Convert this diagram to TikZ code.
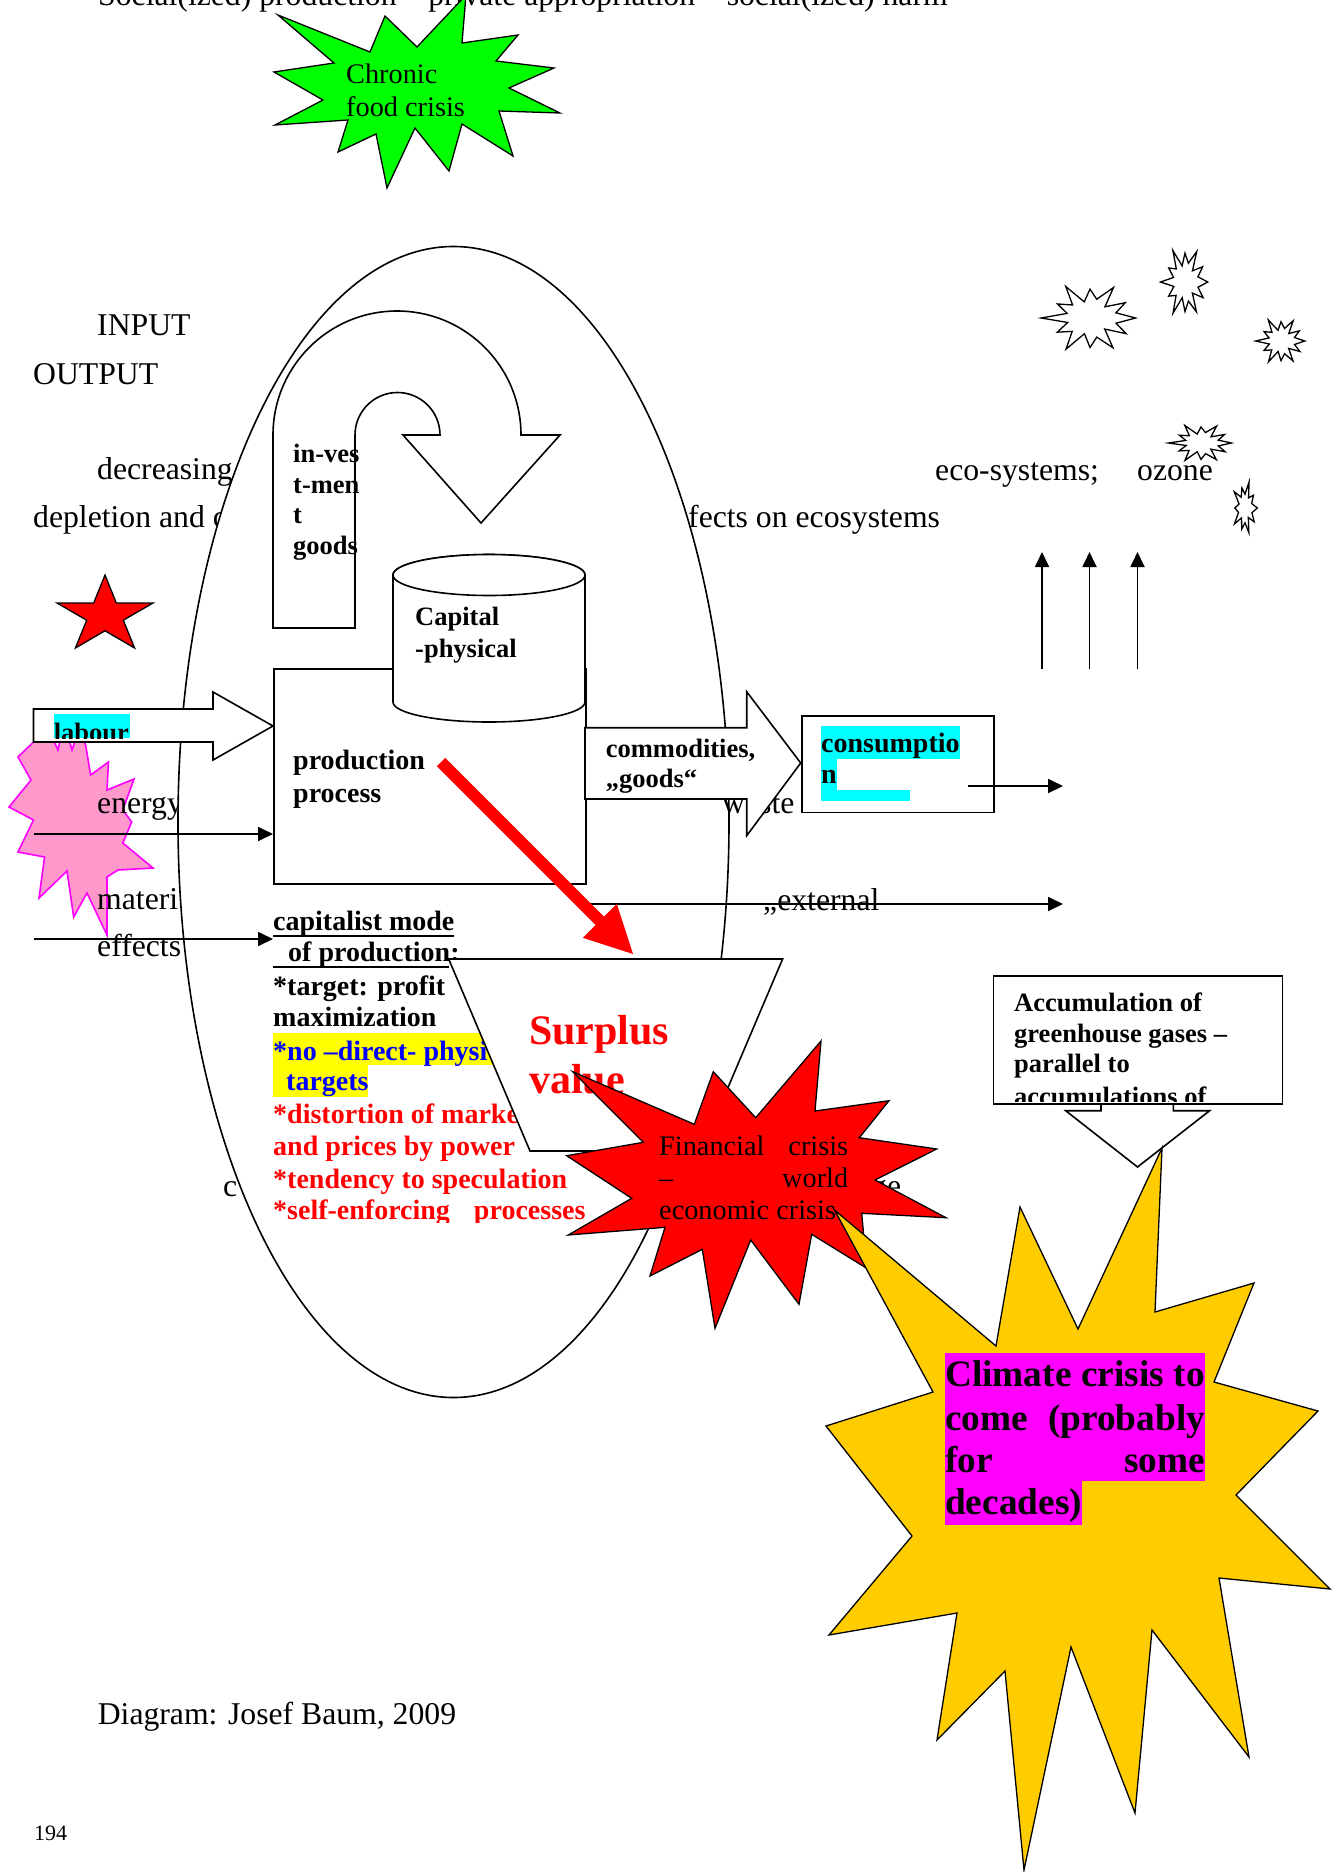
\documentclass[tikz,border=0pt]{standalone}
\usepackage{fontspec}
\setmainfont{Liberation Serif}
\usetikzlibrary{arrows.meta}
\definecolor{greenf}{HTML}{00FF00}
\definecolor{pinkf}{HTML}{FF99CC}
\definecolor{magf}{HTML}{FF00FF}
\definecolor{cyanf}{HTML}{00FFFF}
\definecolor{yellowf}{HTML}{FFFF00}
\definecolor{goldf}{HTML}{FFCC00}
\definecolor{redf}{HTML}{FF0000}
\definecolor{bluef}{HTML}{0000FF}
\newcommand{\rgfont}{\fontsize{31.7}{38}\selectfont}
\newcommand{\bdfont}{\fontsize{26.5}{31}\selectfont\bfseries}
\newcommand{\bgfont}{\fontsize{28}{33}\selectfont\bfseries}
\newcommand{\fsfont}{\fontsize{28.3}{34}\selectfont}
\newcommand{\clfont}{\fontsize{37.3}{44}\selectfont\bfseries}
\newcommand{\burst}[6]{%
  \draw[shp, line width=1.3pt] ({#1+#3*0.95},{#2})
    \foreach \bi in {1,...,#5}
    { -- ({#1+#3*(1-0.45*mod(\bi,2))*(0.9+0.12*sin(\bi*97))*cos(\bi*180/#6)},
          {#2+#4*(1-0.45*mod(\bi,2))*(0.9+0.12*sin(\bi*97))*sin(\bi*180/#6)}) } -- cycle;}
\begin{document}
\begin{tikzpicture}[x=1pt,y=-1pt,
  shp/.style={draw=black, line width=1.6pt, fill=white},
  txt/.style={anchor=base west, inner sep=0pt, font=\rgfont},
  btxt/.style={anchor=base west, inner sep=0pt, font=\bdfont},
  bgtxt/.style={anchor=base west, inner sep=0pt, font=\bgfont},
  conn/.style={line width=1.8pt, -{Triangle[length=15pt,width=14pt]}},
  boxnode/.style={shp, anchor=north west, inner sep=0pt}]
\useasboundingbox (0,0) rectangle (1341,1872);

% ---------- pink star (behind the input texts) ----------
\draw[line width=1.6pt, draw=magf, fill=pinkf] (18,757) -- (48,728) -- (58,750) -- (64,722) -- (72,750) -- (80,726) -- (86,747) -- (90.6,775) -- (108.5,762) -- (107,790) -- (134,779) -- (122.8,810) -- (131.7,822) -- (122.8,843) -- (153,868) -- (118,870) -- (107,877) -- (107,935) -- (87,893) -- (73.7,917) -- (67,871) -- (39,898) -- (44.6,857) -- (18,852) -- (33.5,820) -- (9,807) -- (31,780) -- cycle;

% ---------- background text ----------
\node[txt] (title) at (98,5) {Social(ized) production – private appropriation – social(ized) harm};
\node[txt] (input) at (97,335) {INPUT};
\node[txt] (output) at (33,384) {OUTPUT};
\node[txt] (decr) at (97,479) {decreasing};
\node[txt] (depl) at (33,527) {depletion and c};
\node[txt] (fects) at (688,527) {fects on ecosystems};
\node[txt] (eco) at (935,480) {eco-systems;};
\node[txt] (ozone) at (1137,480) {ozone};
\node[txt] (energy) at (97,813) {energy};
\node[txt] (materi) at (97,909) {materi};
\node[txt] (effects) at (97,956) {effects};
\node[txt] (cl) at (223,1196) {c};
\node[txt] (ge) at (871,1196) {ge};
\node[txt] (diag) at (97.6,1724) {Diagram: Josef Baum, 2009};
\node[anchor=base west, inner sep=0pt, font=\fontsize{22}{26}\selectfont] (page) at (34,1840) {194};

% ---------- green star ----------
\draw[shp, fill=greenf, line width=1.3pt] (278,15) -- (370,52) -- (385,16) -- (417,47) -- (466,-5) -- (462,43) -- (518,35) -- (496,61) -- (554,68) -- (509,88) -- (560,113) -- (499,111) -- (513,156) -- (462,124) -- (449,171) -- (415,128) -- (387,188) -- (376,134) -- (338,152) -- (348,120) -- (275,125) -- (323,100) -- (274,72) -- (334,63) -- cycle;
\node[anchor=base west, inner sep=0pt, font=\fsfont] (chr1) at (346,83) {Chronic};
\node[anchor=base west, inner sep=0pt, font=\fsfont] (chr2) at (346,116) {food crisis};

% ---------- big ellipse ----------
\draw[shp] (453.5,822) ellipse [x radius=275.5pt, y radius=575.5pt];

% ---------- investment U-turn arrow ----------
\draw[shp] (355,628) -- (355,435) arc[start angle=180, end angle=0, radius=42.5pt]
  -- (403,435) -- (481,523) -- (560,435) -- (521,435)
  arc[start angle=0, end angle=180, radius=124pt] -- (273,628) -- cycle;
\node[btxt] (inv1) at (293,462) {in-ves};
\node[btxt] (inv2) at (293,493) {t-men};
\node[btxt] (inv3) at (293,523) {t};
\node[btxt] (inv4) at (293,554) {goods};

% ---------- production box and capital cylinder ----------
\node[boxnode, minimum width=312pt, minimum height=215pt] (prod) at (273,668) {};
\draw[shp] (393,575) -- (393,702) arc[start angle=180, end angle=360, x radius=96pt, y radius=20pt]
  -- (585,575) arc[start angle=0, end angle=180, x radius=96pt, y radius=20.5pt] -- cycle;
\draw[shp] (489,575) ellipse [x radius=96pt, y radius=20.5pt];
\node[btxt] (cap1) at (415,625) {Capital};
\node[btxt] (cap2) at (415,657) {-physical};
\node[bgtxt] (pp1) at (293,769) {production};
\node[bgtxt] (pp2) at (293,802) {process};

% ---------- labour arrow ----------
\draw[shp] (33.5,709) -- (213,709) -- (213,692) -- (273,726) -- (213,760) -- (213,742) -- (33.5,742) -- cycle;
\fill[cyanf] (53.6,714) rectangle (129.5,738);
\begin{scope}
\clip (50,700) rectangle (140,738);
\node[btxt] (labour) at (53.6,741) {labour};
\end{scope}

% ---------- energy / effects arrows ----------
\coordinate (en0) at (33.5,834);
\coordinate (en1) at (273,834);
\draw[conn] (en0) -- (en1);
\coordinate (ef0) at (33.5,939);
\coordinate (ef1) at (273,939);
\draw[conn] (ef0) -- (ef1);

% ---------- commodities arrow ----------
\node[txt] (waste) at (722,813) {waste};
\draw[shp] (585,727.7) -- (746.7,727.7) -- (746.7,691.7) -- (800.7,763) -- (746.7,835.7) -- (746.7,799) -- (585,799) -- cycle;
\node[btxt] (comm) at (605.7,757) {commodities,};
\node[btxt] (goods) at (605.7,787) {„goods“};

% ---------- consumption ----------
\node[boxnode, minimum width=192pt, minimum height=96.7pt] (cons) at (801,715) {};
\fill[cyanf] (821,726) rectangle (960,759);
\fill[cyanf] (821,759) rectangle (837,800.7);
\fill[cyanf] (837,790) rectangle (910,800.7);
\node[bgtxt] (cons1) at (821,752) {consumptio};
\node[bgtxt] (cons2) at (821,783) {n};
\coordinate (c0) at (968,786);
\coordinate (c1) at (1063,786);
\draw[conn] (c0) -- (c1);

% ---------- external ----------
\coordinate (x0) at (585,904);
\coordinate (x1) at (1063,904);
\draw[conn] (x0) -- (x1);
\node[txt] (ext) at (763,910) {„external};

% ---------- capitalist mode block ----------
\node[bgtxt] (capm) at (273,930) {capitalist mode};
\draw[line width=2.5pt] (273,936) -- (454,936);
\node[bgtxt] (ofp) at (288,961) {of production:};
\draw[line width=2.5pt] (273,967) -- (449,967);
\begin{scope}
\clip (260,969) rectangle (720,1222);
\fill[yellowf] (273,1033) rectangle (520,1065);
\fill[yellowf] (273,1065) rectangle (368,1097);
\node[bgtxt] (t1) at (273,995) {*target: profit};
\node[bgtxt] (t2) at (273,1026) {maximization};
\node[bgtxt, text=bluef] (t3) at (273,1060) {*no –direct- physi};
\node[bgtxt, text=bluef] (t4) at (286,1090) {targets};
\node[bgtxt, text=redf] (t5) at (273,1123) {*distortion of marke};
\node[bgtxt, text=redf] (t6) at (273,1155) {and prices by power};
\node[bgtxt, text=redf] (t7) at (273,1188) {*tendency to speculation};
\node[bgtxt, text=redf] (t8) at (273,1219) {*self-enforcing\hspace{24pt}processes};
\end{scope}

% ---------- surplus value trapezoid ----------
\draw[shp] (448.7,959) -- (782.6,959) -- (701,1151) -- (530,1151) -- cycle;
\node[anchor=base west, inner sep=0pt, font=\fontsize{42}{50}\selectfont\bfseries, text=redf] (surp1) at (529,1044) {Surplus};
\node[anchor=base west, inner sep=0pt, font=\fontsize{42}{50}\selectfont\bfseries, text=redf] (surp2) at (529,1093) {value};

% ---------- red arrow ----------
\fill[redf] (445.2,757.8) -- (604,916.6) -- (616.8,903.8) -- (633,954) -- (582.8,937.8) -- (595.6,925) -- (436.8,766.2) -- cycle;

% ---------- financial crisis star ----------
\draw[shp, fill=redf, line width=1.3pt] (572.7,1071.7) -- (694.3,1124.3) -- (713.3,1071.7) -- (755.7,1117.7) -- (821,1041) -- (815,1111) -- (889,1100.7) -- (859.3,1137.7) -- (936.7,1149) -- (875,1180) -- (946,1217.7) -- (861.7,1213.3) -- (866.7,1268.3) -- (811.7,1234.3) -- (799,1304.3) -- (750.7,1240) -- (715,1328.3) -- (702.3,1249.3) -- (650,1276) -- (665,1227.3) -- (568.3,1235) -- (631.7,1198.3) -- (566.7,1155.7) -- (643.3,1142.3) -- cycle;
\node[anchor=base west, inner sep=0pt, font=\fsfont] (fin1) at (659,1155) {\makebox[189pt][s]{Financial crisis}};
\node[anchor=base west, inner sep=0pt, font=\fsfont] (fin2) at (659,1187) {\makebox[189pt][s]{– world}};
\node[anchor=base west, inner sep=0pt, font=\fsfont] (fin3) at (659,1219) {economic crisis};

% ---------- greenhouse box and arrow ----------
\draw[shp] (1101,1098) -- (1101,1110.7) -- (1065.7,1110.7) -- (1137.5,1167) -- (1209.6,1110.7) -- (1173.4,1110.7) -- (1173.4,1098);
\node[boxnode, minimum width=289pt, minimum height=128pt] (acc) at (992.5,975) {};
\begin{scope}
\clip (993,976) rectangle (1280,1101);
\node[btxt] (a1) at (1014,1011) {Accumulation of};
\node[btxt] (a2) at (1014,1042) {greenhouse gases –};
\node[btxt] (a3) at (1014,1072.5) {parallel to};
\node[btxt] (a4) at (1014,1105) {accumulations of};
\end{scope}

% ---------- climate crisis star ----------
\draw[shp, fill=goldf, line width=1.3pt] (1162,1148) -- (1155,1312) -- (1254,1283) -- (1214,1382) -- (1318,1411) -- (1236,1495) -- (1330,1589) -- (1219,1578) -- (1249,1757) -- (1152,1630) -- (1135,1813) -- (1071,1647) -- (1024,1870) -- (1005,1671) -- (937,1740) -- (957,1613) -- (829,1635) -- (912,1536) -- (826,1426) -- (933,1392) -- (834.5,1210) -- (996,1346) -- (1020,1207) -- (1078,1329) -- cycle;
\fill[magf] (945,1352.6) rectangle (1204.8,1481);
\fill[magf] (945,1481) rectangle (1082,1525);
\node[anchor=base west, inner sep=0pt, font=\clfont] (cl1) at (945,1386) {\makebox[259.8pt][s]{Climate crisis to}};
\node[anchor=base west, inner sep=0pt, font=\clfont] (cl2) at (945,1430) {\makebox[259.8pt][s]{come (probably}};
\node[anchor=base west, inner sep=0pt, font=\clfont] (cl3) at (945,1472) {\makebox[259.8pt][s]{for some}};
\node[anchor=base west, inner sep=0pt, font=\clfont] (cl4) at (945,1514.5) {decades)};

% ---------- small ozone bursts ----------
\burst{1090}{318}{48}{36}{23}{12}
\burst{1185}{282}{24}{36}{23}{12}
\burst{1281}{341}{25}{24}{23}{12}
\burst{1201}{443}{32}{20}{23}{12}
\burst{1245}{508}{13}{27}{19}{10}

% ---------- vertical arrows ----------
\coordinate (v1a) at (1042,669); \coordinate (v1b) at (1042,552);
\coordinate (v2a) at (1089.5,669); \coordinate (v2b) at (1089.5,552);
\coordinate (v3a) at (1137.5,669); \coordinate (v3b) at (1137.5,552);
\draw[conn] (v1a) -- (v1b);
\draw[conn] (v2a) -- (v2b);
\draw[conn] (v3a) -- (v3b);

% ---------- red five-point star ----------
\draw[draw=black, line width=1.3pt, fill=redf] (105,575) -- (116.3,603) -- (153,603) -- (123.3,620.2) -- (134.6,648) -- (105,630.8) -- (75.4,648) -- (86.7,620.2) -- (57,603) -- (93.7,603) -- cycle;
\end{tikzpicture}
\end{document}
